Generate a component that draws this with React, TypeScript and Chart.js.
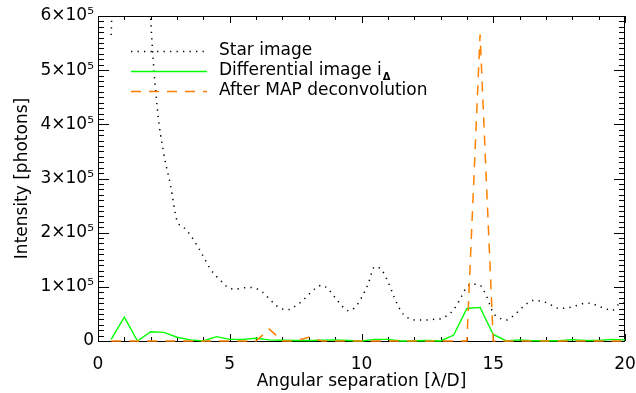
import React, { useEffect, useRef } from 'react';
import { Chart, registerables } from 'chart.js';

Chart.register(...registerables);

// Star image profile (dotted), sampled every 0.25 λ/D
const starSep = [
  0.5, 0.75, 1, 1.25, 1.5, 1.75, 2, 2.25, 2.5, 2.75,
  3, 3.25, 3.5, 3.75, 4, 4.25, 4.5, 4.75, 5, 5.25,
  5.5, 5.75, 6, 6.25, 6.5, 6.75, 7, 7.25, 7.5, 7.75,
  8, 8.25, 8.5, 8.75, 9, 9.25, 9.5, 9.75, 10, 10.25,
  10.5, 10.75, 11, 11.25, 11.5, 11.75, 12, 12.25, 12.5, 12.75,
  13, 13.25, 13.5, 13.75, 14, 14.25, 14.5, 14.75, 15, 15.25,
  15.5, 15.75, 16, 16.25, 16.5, 16.75, 17, 17.25, 17.5, 17.75,
  18, 18.25, 18.5, 18.75, 19, 19.25, 19.5, 19.75, 20,
];
const starIntensity = [
  565000, 950000, 1300000, 1400000, 1300000, 900000, 595000, 430000, 345000, 288000,
  222000, 210000, 196000, 177000, 156000, 134000, 119000, 107000, 97000, 96000,
  98000, 99000, 97000, 90000, 78000, 66000, 59000, 58000, 65000, 74000,
  86000, 97000, 103000, 95000, 80000, 65000, 56000, 62000, 80000, 105000,
  137000, 132000, 110000, 80000, 55000, 43000, 39000, 39000, 39000, 40000,
  41000, 47000, 58000, 78000, 100000, 105000, 103000, 82000, 52000, 42000,
  39000, 46000, 57000, 68000, 75000, 74000, 71000, 65000, 60000, 61000,
  63000, 67000, 70000, 69000, 64000, 60000, 56000, 67000, 71000,
];

// Differential image and MAP deconvolution, sampled every 0.5 λ/D
const diffSep = [
  0.5, 1, 1.5, 2, 2.5, 3, 3.5, 4, 4.5, 5,
  5.5, 6, 6.5, 7, 7.5, 8, 8.5, 9, 9.5, 10,
  10.5, 11, 11.5, 12, 12.5, 13, 13.5, 14, 14.5, 15,
  15.5, 16, 16.5, 17, 17.5, 18, 18.5, 19, 19.5, 20,
];
const diffIntensity = [
  3000, 44000, 0, 17000, 16000, 7000, 2000, 0, 8000, 3000,
  3000, 5000, 2000, 1500, 1000, 1000, 1500, 2000, 1000, 0,
  3000, 3000, 0, 500, 1000, 0, 11000, 60000, 62000, 12000,
  0, 2000, 500, 500, 500, 2500, 1000, 1000, 3000, 2000,
];
const mapIntensity = [
  0, 0, 0, 0, 0, 0, 0, 0, 0, 0,
  0, 0, 22000, 0, 0, 7000, 0, 0, 0, 0,
  0, 0, 0, 0, 0, 0, 0, 0, 566000, 0,
  0, 0, 0, 0, 0, 0, 0, 0, 0, 0,
];

const yTickLabels = ['0', '1×10⁵', '2×10⁵', '3×10⁵', '4×10⁵', '5×10⁵', '6×10⁵'];
const seriesLabels = ['Star image', 'Differential image i', 'After MAP deconvolution'];
const seriesSubscripts = ['', 'Δ', ''];
const xTitle = 'Angular separation [λ/D]';
const yTitle = 'Intensity [photons]';

const FONT = "'DejaVu Sans', sans-serif";
const TEXT_SIZE = 17;

const toPoints = (xs: number[], ys: number[]) => xs.map((x, i) => ({ x, y: ys[i] }));

const frameTicks = {
  id: 'frameTicks',
  beforeDatasetsDraw(chart: any) {
    const { ctx, chartArea } = chart;
    const { left, right, top, bottom } = chartArea;
    const xs = chart.scales.x;
    const ys = chart.scales.y;
    ctx.save();
    ctx.strokeStyle = '#000';
    ctx.lineWidth = 1;
    ctx.beginPath();
    ctx.rect(left + 0.5, top + 0.5, right - left - 1, bottom - top);
    ctx.stroke();
    ctx.beginPath();
    for (let v = xs.min; v <= xs.max + 1e-9; v += 1) {
      const px = Math.round(xs.getPixelForValue(v)) + 0.5;
      const len = Math.abs(v % 5) < 1e-9 ? 7 : 4;
      ctx.moveTo(px, bottom);
      ctx.lineTo(px, bottom - len);
      ctx.moveTo(px, top);
      ctx.lineTo(px, top + len);
    }
    for (let v = ys.min; v <= ys.max + 1; v += 10000) {
      const py = Math.round(ys.getPixelForValue(v)) + 0.5;
      const len = Math.abs(v % 100000) < 1 ? 11 : 6;
      ctx.moveTo(left, py);
      ctx.lineTo(left + len, py);
      ctx.moveTo(right, py);
      ctx.lineTo(right - len, py);
    }
    ctx.stroke();
    ctx.restore();
  },
};

const insideLegend = {
  id: 'insideLegend',
  afterDatasetsDraw(chart: any) {
    const { ctx } = chart;
    const x0 = 131;
    const x1 = 207;
    const tx = 219;
    const rows = [51, 71, 91];
    ctx.save();
    chart.data.datasets.forEach((_ds: any, i: number) => {
      const opts = chart.getDatasetMeta(i).dataset.options;
      const y = rows[i];
      ctx.beginPath();
      ctx.strokeStyle = opts.borderColor;
      ctx.lineWidth = opts.borderWidth;
      ctx.setLineDash(opts.borderDash || []);
      ctx.moveTo(x0, y + 0.5);
      ctx.lineTo(x1, y + 0.5);
      ctx.stroke();
      ctx.setLineDash([]);
      ctx.fillStyle = '#000';
      ctx.font = `${TEXT_SIZE}px ${FONT}`;
      ctx.textBaseline = 'middle';
      ctx.textAlign = 'left';
      const label = seriesLabels[i];
      ctx.fillText(label, tx, y);
      const sub = seriesSubscripts[i];
      if (sub) {
        const w = ctx.measureText(label).width;
        ctx.font = `bold 10px ${FONT}`;
        ctx.fillText(sub, tx + w + 1, y + 6);
      }
    });
    ctx.restore();
  },
};

export default function App() {
  const canvasRef = useRef<HTMLCanvasElement | null>(null);

  useEffect(() => {
    const canvas = canvasRef.current;
    if (!canvas) return;
    const font = { family: FONT, size: TEXT_SIZE };
    const clip = { left: 2, top: 0, right: 2, bottom: 3 };
    const chart = new Chart(canvas, {
      type: 'line',
      data: {
        datasets: [
          {
            label: seriesLabels[0],
            data: toPoints(starSep, starIntensity),
            borderColor: '#000000',
            borderWidth: 1.5,
            borderDash: [1.3, 5.2],
            pointRadius: 0,
            cubicInterpolationMode: 'monotone',
            fill: false,
            clip,
            order: 3,
          },
          {
            label: seriesLabels[1] + seriesSubscripts[1],
            data: toPoints(diffSep, diffIntensity),
            borderColor: '#00ff00',
            borderWidth: 1.4,
            pointRadius: 0,
            tension: 0,
            fill: false,
            clip,
            order: 2,
          },
          {
            label: seriesLabels[2],
            data: toPoints(diffSep, mapIntensity),
            borderColor: '#ff8000',
            borderWidth: 1.5,
            borderDash: [10, 8],
            pointRadius: 0,
            tension: 0,
            fill: false,
            clip,
            order: 1,
          },
        ] as any,
      },
      options: {
        animation: false,
        responsive: false,
        devicePixelRatio: 1,
        layout: { padding: { top: 16, right: 11, left: 0, bottom: 0 } },
        plugins: { legend: { display: false }, tooltip: { enabled: false } },
        scales: {
          x: {
            type: 'linear',
            min: 0,
            max: 20,
            grid: { display: false, drawTicks: false },
            border: { display: false },
            ticks: {
              stepSize: 5,
              padding: 13,
              color: '#000',
              font,
              maxRotation: 0,
              autoSkip: false,
              callback: (v: any) => String(v),
            },
            title: { display: true, text: xTitle, color: '#000', font, padding: { top: 0, bottom: 1 } },
            afterFit: (s: any) => {
              s.height = 52;
              s.paddingLeft = 0;
              s.paddingRight = 0;
            },
          },
          y: {
            type: 'linear',
            min: 0,
            max: 600000,
            grid: { display: false, drawTicks: false },
            border: { display: false },
            ticks: {
              stepSize: 100000,
              padding: 4,
              color: '#000',
              font,
              callback: (_v: any, i: number) => yTickLabels[i],
            },
            title: { display: true, text: yTitle, color: '#000', font, padding: { top: 12, bottom: 0 } },
            afterFit: (s: any) => {
              s.width = 98;
              s.paddingTop = 0;
              s.paddingBottom = 0;
            },
          },
        },
      } as any,
      plugins: [frameTicks, insideLegend],
    });
    return () => chart.destroy();
  }, []);

  return (
    <div style={{ position: 'fixed', left: 0, top: 0, width: 636, height: 393, background: '#fff' }}>
      <canvas ref={canvasRef} width={636} height={393} style={{ display: 'block' }} />
    </div>
  );
}
